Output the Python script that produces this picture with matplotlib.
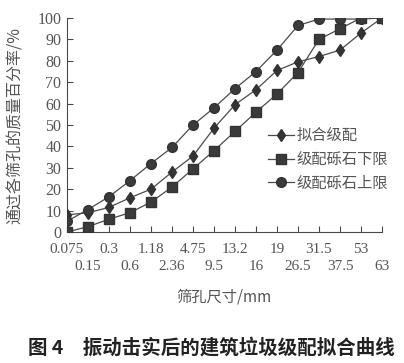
import matplotlib
matplotlib.use("Agg")
import matplotlib.pyplot as plt

sizes = ["0.075", "0.15", "0.3", "0.6", "1.18", "2.36", "4.75", "9.5",
         "13.2", "16", "19", "26.5", "31.5", "37.5", "53", "63"]
fit = [8, 9, 11.5, 16, 20, 28, 35.5, 48.5, 59.5, 66.5, 75.5, 79.5, 82, 85, 93, 100]
lower = [0, 2.5, 6, 9, 14, 21, 29.5, 38, 47, 56, 64.5, 74.5, 90, 95, 100, 100]
upper = [5, 10.5, 16.5, 24, 32, 39.5, 50, 58, 67, 75, 85, 96.5, 99.5, 99.5, 99.5, 100]
series_names = ["拟合级配", "级配砾石下限", "级配砾石上限"]

CJK = ["Noto Sans CJK SC", "DejaVu Sans"]
SERIF = ["Liberation Serif", "DejaVu Serif"]
gray = "#4a4a4a"
txt = "#555555"

fig = plt.figure(figsize=(4.04, 3.63), dpi=100)
ax = fig.add_axes([67/404, 1-232/363, (382-67)/404, (232-18)/363])

x = list(range(len(sizes)))
l1, = ax.plot(x, fit, color=gray, lw=0.9, marker="d", ms=6.5, mfc="#333333", mec="#333333", label=series_names[0], zorder=3)
l2, = ax.plot(x, lower, color=gray, lw=0.9, marker="s", ms=6.5, mfc="#3a3a3a", mec="#333333", label=series_names[1], zorder=3)
l3, = ax.plot(x, upper, color=gray, lw=0.9, marker="o", ms=7, mfc="#3a3a3a", mec="#333333", label=series_names[2], zorder=3)

ax.set_xlim(0, len(sizes) - 1)
ax.set_ylim(0, 100)
ax.set_yticks(range(0, 101, 10))
even = x[0::2]
odd = x[1::2]
ax.set_xticks(even)
ax.set_xticklabels(sizes[0::2], fontfamily=SERIF, fontsize=11, color=txt)
ax.set_xticks(odd, minor=True)
ax.set_xticklabels(sizes[1::2], minor=True, fontfamily=SERIF, fontsize=11, color=txt)
for t in ax.get_yticklabels():
    t.set_fontfamily(SERIF)
    t.set_fontsize(11.5)
    t.set_color(txt)
ax.tick_params(axis="both", which="both", direction="in", length=4, width=0.8, color=gray)
ax.tick_params(axis="y", pad=4)
ax.tick_params(axis="x", which="major", pad=8)
ax.tick_params(axis="x", which="minor", pad=20)
for s in ["top", "right"]:
    ax.spines[s].set_visible(False)
for s in ["left", "bottom"]:
    ax.spines[s].set_color(gray)
    ax.spines[s].set_linewidth(0.8)
ax.patch.set_alpha(0)

fig.text(15/404, 1-125/363, "通过各筛孔的质量百分率/%", fontfamily=CJK, fontsize=11.5, color=txt,
         rotation=90, ha="center", va="center")
fig.text(224/404, 1-297/363, "筛孔尺寸/mm", fontfamily=CJK + ["Liberation Serif"], fontsize=11,
         color=txt, ha="center", va="center")

leg = ax.legend(handles=[l1, l2, l3], loc="upper left", bbox_to_anchor=(268/404, 1-127/363),
                bbox_transform=fig.transFigure, frameon=False, prop={"family": CJK, "size": 11},
                handlelength=1.7, handletextpad=0.2, labelspacing=0.45, borderpad=0, borderaxespad=0)
for t in leg.get_texts():
    t.set_color(txt)

fig.text(211/404, 1-348/363, "图 4　振动击实后的建筑垃圾级配拟合曲线", fontfamily=CJK, fontsize=14,
         fontweight="bold", color="#222222", ha="center", va="center")

fig.savefig("out.png", dpi=100)
